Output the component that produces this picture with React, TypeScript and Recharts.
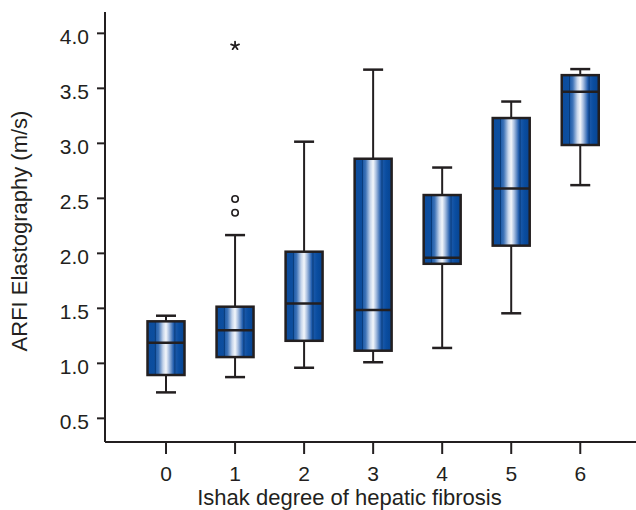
import React from "react";
import { ComposedChart, Bar, Scatter, XAxis, YAxis, Label } from "recharts";

// ---- data ----
const categories = [0, 1, 2, 3, 4, 5, 6];
const whiskerLow = [0.736, 0.875, 0.96, 1.01, 1.14, 1.455, 2.62];
const q1 = [0.894, 1.057, 1.205, 1.115, 1.905, 2.07, 2.985];
const median = [1.187, 1.3, 1.545, 1.485, 1.96, 2.59, 3.47];
const q3 = [1.382, 1.515, 2.015, 2.86, 2.53, 3.23, 3.62];
const whiskerHigh = [1.433, 2.166, 3.015, 3.67, 2.78, 3.38, 3.675];

const outlierX = [1, 1];
const outlierY = [2.494, 2.369];
const extremeX = [1];
const extremeY = [3.887];

const yTicks = [0.5, 1.0, 1.5, 2.0, 2.5, 3.0, 3.5, 4.0];
const xLabel = "Ishak degree of hepatic fibrosis";
const yLabel = "ARFI Elastography (m/s)";

const boxData = categories.map((c, i) => ({
  x: c,
  range: [q1[i], q3[i]],
  lo: whiskerLow[i],
  q1: q1[i],
  med: median[i],
  q3: q3[i],
  hi: whiskerHigh[i],
}));
const outlierData = outlierX.map((x, i) => ({ x, y: outlierY[i] }));
const extremeData = extremeX.map((x, i) => ({ x, y: extremeY[i] }));

const INK = "#231f20";
const FONT = "'Liberation Sans', Arial, sans-serif";

const BoxShape = (props: any) => {
  const { x, y, width, height, payload } = props;
  if (height == null || !payload) return null;
  const unit = height / (payload.q3 - payload.q1);
  const cx = x + width / 2;
  const yHigh = y - (payload.hi - payload.q3) * unit;
  const yLow = y + height + (payload.q1 - payload.lo) * unit;
  const yMed = y + (payload.q3 - payload.med) * unit;
  const cap = 10;
  return (
    <g>
      <line x1={cx} x2={cx} y1={yHigh} y2={y} stroke={INK} strokeWidth={2} />
      <line x1={cx} x2={cx} y1={y + height} y2={yLow} stroke={INK} strokeWidth={2} />
      <line x1={cx - cap} x2={cx + cap} y1={yHigh} y2={yHigh} stroke={INK} strokeWidth={2.5} />
      <line x1={cx - cap} x2={cx + cap} y1={yLow} y2={yLow} stroke={INK} strokeWidth={2.5} />
      <rect x={x} y={y} width={width} height={height} fill="url(#boxGrad)" stroke="none" />
      <line x1={x + width * 0.21} x2={x + width * 0.21} y1={y} y2={y + height} stroke="#083a78" strokeWidth={1} />
      <line x1={x + width * 0.74} x2={x + width * 0.74} y1={y} y2={y + height} stroke="#083a78" strokeWidth={1} />
      <rect x={x} y={y} width={width} height={height} fill="none" stroke={INK} strokeWidth={2.5} />
      <line x1={x} x2={x + width} y1={yMed} y2={yMed} stroke={INK} strokeWidth={2.5} />
    </g>
  );
};

const CircleShape = (props: any) => {
  const { cx, cy } = props;
  return <circle cx={cx} cy={cy} r={3.2} fill="#ffffff" stroke={INK} strokeWidth={1.6} />;
};

const StarShape = (props: any) => {
  const { cx, cy } = props;
  const r = 4.2;
  const arms = [90, 162, 234, 306, 18];
  return (
    <g>
      {arms.map((a) => {
        const rad = (a * Math.PI) / 180;
        return (
          <line
            key={a}
            x1={cx}
            y1={cy}
            x2={cx + r * Math.cos(rad)}
            y2={cy - r * Math.sin(rad)}
            stroke={INK}
            strokeWidth={1.8}
            strokeLinecap="round"
          />
        );
      })}
    </g>
  );
};

export default function App() {
  return (
    <div
      style={{
        position: "absolute",
        left: 0,
        top: 0,
        width: 636,
        height: 510,
        overflow: "hidden",
        background: "#ffffff",
      }}
    >
      <ComposedChart
        width={650}
        height={510}
        data={boxData}
        margin={{ top: 12, right: 0, bottom: 0, left: 0 }}
        style={{ fontFamily: FONT }}
      >
        <defs>
          <linearGradient id="boxGrad" x1="0" y1="0" x2="1" y2="0">
            <stop offset="0%" stopColor="#0d4c9c" />
            <stop offset="18%" stopColor="#0c4e9f" />
            <stop offset="30%" stopColor="#3f74b8" />
            <stop offset="42%" stopColor="#c5d4ea" />
            <stop offset="50%" stopColor="#f4f7fb" />
            <stop offset="58%" stopColor="#a9bfe0" />
            <stop offset="70%" stopColor="#245fae" />
            <stop offset="85%" stopColor="#0a4da0" />
            <stop offset="100%" stopColor="#07438f" />
          </linearGradient>
        </defs>
        <XAxis
          xAxisId="top"
          orientation="top"
          type="number"
          dataKey="x"
          domain={[-0.884, 7.01]}
          allowDataOverflow
          height={0}
          tick={false}
          tickLine={false}
          axisLine={{ stroke: INK, strokeWidth: 2 }}
        />
        <XAxis
          type="number"
          dataKey="x"
          domain={[-0.884, 7.01]}
          allowDataOverflow
          ticks={categories}
          interval={0}
          height={68}
          tickSize={12}
          tickMargin={12}
          axisLine={{ stroke: INK, strokeWidth: 2 }}
          tickLine={{ stroke: INK, strokeWidth: 2 }}
          tick={{ fill: INK, fontSize: 21, fontFamily: FONT }}
        >
          <Label
            content={(p: any) => {
              const vb = p.viewBox || {};
              return (
                <text
                  x={vb.x + vb.width / 2 - 28}
                  y={vb.y + vb.height - 5}
                  textAnchor="middle"
                  fill={INK}
                  fontSize={22}
                  fontFamily={FONT}
                >
                  {xLabel}
                </text>
              );
            }}
          />
        </XAxis>
        <YAxis
          type="number"
          domain={[0.285, 4.194]}
          allowDataOverflow
          ticks={yTicks}
          interval={0}
          width={105}
          tickSize={8}
          tickMargin={8}
          tickFormatter={(v: number) => v.toFixed(1)}
          axisLine={{ stroke: INK, strokeWidth: 2 }}
          tickLine={{ stroke: INK, strokeWidth: 2 }}
          tick={{ fill: INK, fontSize: 21, fontFamily: FONT, dy: 3 }}
        >
          <Label
            content={(p: any) => {
              const vb = p.viewBox || {};
              const lx = 27;
              const ly = vb.y + vb.height / 2 + 4;
              return (
                <text
                  x={lx}
                  y={ly}
                  transform={`rotate(-90, ${lx}, ${ly})`}
                  textAnchor="middle"
                  fill={INK}
                  fontSize={22}
                  fontFamily={FONT}
                >
                  {yLabel}
                </text>
              );
            }}
          />
        </YAxis>
        <Bar dataKey="range" barSize={37} shape={<BoxShape />} isAnimationActive={false} />
        <Scatter data={outlierData} dataKey="y" shape={<CircleShape />} isAnimationActive={false} />
        <Scatter data={extremeData} dataKey="y" shape={<StarShape />} isAnimationActive={false} />
      </ComposedChart>
    </div>
  );
}
